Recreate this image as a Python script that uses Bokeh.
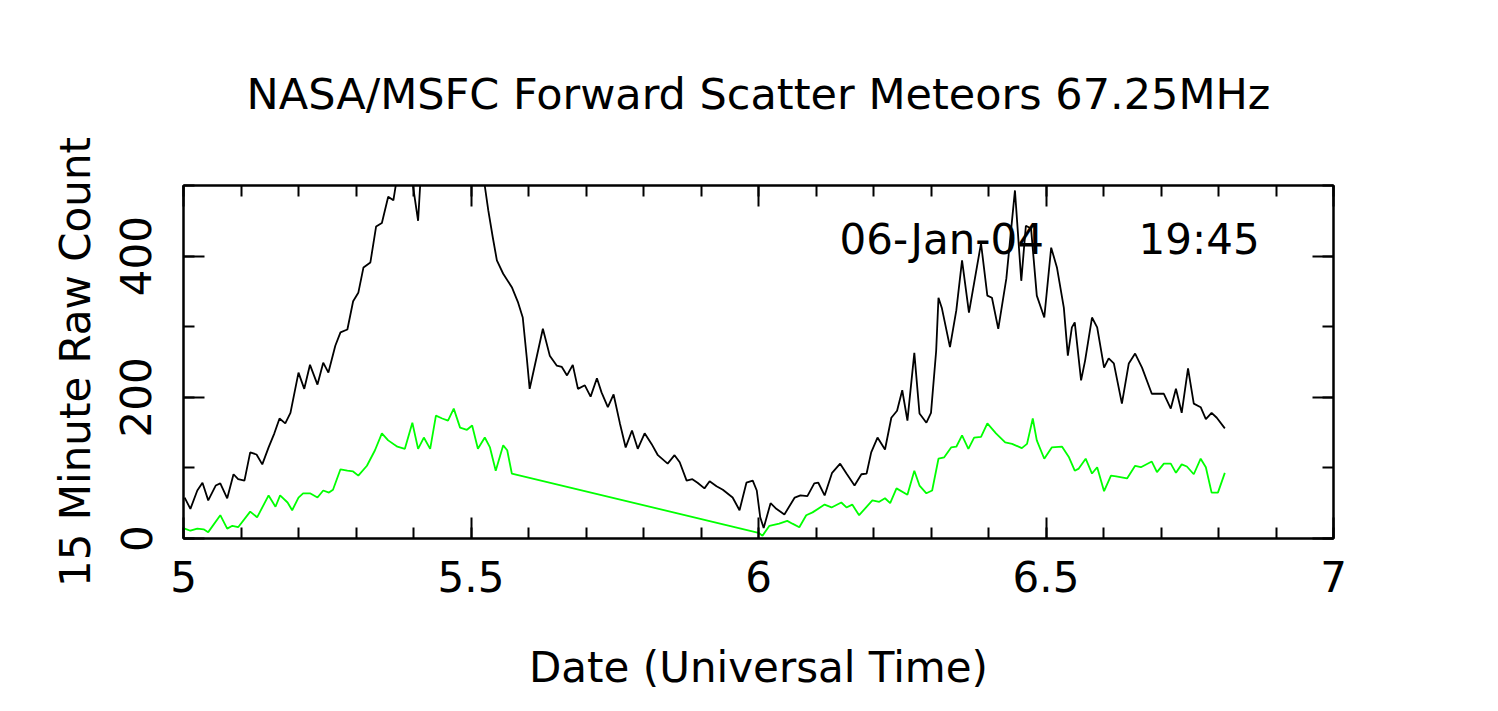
from bokeh.plotting import figure
from bokeh.models import Range1d, LinearAxis, SingleIntervalTicker, Label
from bokeh.embed import file_html
from bokeh.resources import INLINE

title_text = "NASA/MSFC Forward Scatter Meteors 67.25MHz"
x_label = "Date (Universal Time)"
y_label = "15 Minute Raw Count"
stamp_date = "06-Jan-04"
stamp_time = "19:45"
stamp_date_x = 6.141
stamp_time_x = 6.661
stamp_y = 423

black_date = [5.002, 5.012, 5.024, 5.033, 5.043, 5.056, 5.064, 5.076, 5.087, 5.095,
              5.106, 5.116, 5.127, 5.137, 5.148, 5.158, 5.167, 5.177, 5.186, 5.200,
              5.210, 5.220, 5.233, 5.243, 5.252, 5.264, 5.273, 5.285, 5.295, 5.304,
              5.313, 5.325, 5.335, 5.345, 5.356, 5.365, 5.375, 5.385, 5.396, 5.399,
              5.408, 5.413, 5.429, 5.464, 5.498, 5.516, 5.523, 5.530, 5.538, 5.545,
              5.556, 5.571, 5.582, 5.590, 5.597, 5.602, 5.608, 5.625, 5.637, 5.649,
              5.658, 5.667, 5.677, 5.686, 5.698, 5.708, 5.719, 5.727, 5.738, 5.748,
              5.759, 5.769, 5.780, 5.790, 5.802, 5.814, 5.825, 5.842, 5.854, 5.863,
              5.875, 5.885, 5.894, 5.906, 5.915, 5.927, 5.938, 5.955, 5.967, 5.979,
              5.990, 5.997, 6.003, 6.009, 6.021, 6.031, 6.045, 6.063, 6.073, 6.085,
              6.097, 6.104, 6.115, 6.128, 6.142, 6.153, 6.167, 6.179, 6.188, 6.196,
              6.207, 6.220, 6.231, 6.241, 6.250, 6.259, 6.271, 6.280, 6.292, 6.300,
              6.309, 6.313, 6.319, 6.333, 6.344, 6.354, 6.366, 6.387, 6.398, 6.406,
              6.417, 6.431, 6.446, 6.457, 6.465, 6.474, 6.484, 6.497, 6.509, 6.519,
              6.531, 6.538, 6.545, 6.550, 6.561, 6.568, 6.580, 6.589, 6.601, 6.609,
              6.618, 6.632, 6.644, 6.655, 6.667, 6.684, 6.705, 6.717, 6.726, 6.736,
              6.747, 6.757, 6.769, 6.778, 6.788, 6.797, 6.811]
black_count = [58, 42, 68, 79, 54, 75, 78, 57, 91, 84,
               82, 122, 119, 105, 129, 149, 170, 163, 178, 235,
               212, 246, 218, 249, 235, 273, 292, 296, 336, 348,
               384, 391, 442, 447, 484, 479, 530, 560, 505, 500,
               450, 520, 560, 580, 560, 520, 505, 465, 426, 394,
               375, 356, 334, 313, 256, 212, 234, 297, 259, 245,
               243, 231, 246, 212, 217, 201, 227, 207, 186, 204,
               163, 129, 153, 127, 149, 134, 118, 106, 118, 108,
               82, 84, 79, 71, 81, 74, 69, 58, 40, 79,
               82, 68, 30, 15, 50, 42, 34, 58, 61, 60,
               78, 79, 61, 93, 106, 92, 75, 91, 92, 122,
               143, 126, 171, 181, 210, 167, 263, 177, 164, 178,
               266, 341, 326, 271, 323, 394, 320, 418, 344, 341,
               297, 368, 493, 365, 443, 439, 344, 313, 412, 384,
               327, 259, 299, 306, 224, 252, 313, 299, 242, 255,
               248, 191, 248, 262, 242, 205, 205, 184, 212, 178,
               241, 191, 186, 169, 178, 171, 156]

green_date = [5.002, 5.012, 5.024, 5.035, 5.043, 5.064, 5.076, 5.085, 5.095, 5.116,
              5.128, 5.148, 5.160, 5.168, 5.181, 5.189, 5.200, 5.208, 5.220, 5.233,
              5.243, 5.253, 5.260, 5.273, 5.285, 5.295, 5.304, 5.319, 5.333, 5.345,
              5.356, 5.372, 5.385, 5.398, 5.408, 5.418, 5.429, 5.439, 5.450, 5.460,
              5.470, 5.481, 5.493, 5.502, 5.512, 5.524, 5.533, 5.543, 5.556, 5.563,
              5.571, 6.000, 6.007, 6.019, 6.036, 6.050, 6.059, 6.071, 6.083, 6.094,
              6.115, 6.127, 6.144, 6.153, 6.163, 6.175, 6.198, 6.210, 6.220, 6.229,
              6.240, 6.259, 6.271, 6.280, 6.292, 6.302, 6.313, 6.323, 6.335, 6.344,
              6.354, 6.365, 6.375, 6.387, 6.398, 6.413, 6.429, 6.441, 6.458, 6.467,
              6.477, 6.484, 6.497, 6.510, 6.528, 6.540, 6.550, 6.557, 6.569, 6.580,
              6.589, 6.601, 6.613, 6.622, 6.641, 6.655, 6.665, 6.684, 6.693, 6.705,
              6.717, 6.726, 6.736, 6.745, 6.757, 6.769, 6.778, 6.788, 6.799, 6.811]
green_count = [14, 11, 14, 13, 9, 33, 14, 18, 16, 38,
               30, 61, 45, 61, 51, 40, 58, 64, 64, 58,
               68, 65, 69, 98, 96, 95, 89, 103, 125, 149,
               139, 130, 127, 164, 127, 143, 127, 174, 170, 167,
               184, 157, 154, 160, 127, 143, 129, 96, 132, 125,
               92, 8, 4, 18, 21, 25, 21, 16, 33, 37,
               48, 44, 51, 44, 48, 33, 54, 52, 57, 50,
               71, 62, 96, 75, 64, 68, 113, 115, 129, 130,
               146, 127, 143, 144, 163, 149, 136, 134, 128, 134,
               170, 139, 113, 129, 130, 115, 96, 99, 113, 92,
               101, 67, 89, 88, 85, 103, 101, 109, 94, 106,
               106, 93, 105, 102, 91, 113, 101, 65, 65, 93]

FONT = "DejaVu Sans"
FS = "42px"

p = figure(width=1490, height=703, output_backend="svg", toolbar_location=None,
           x_range=Range1d(5, 7), y_range=Range1d(0, 500),
           min_border_left=183, min_border_right=157,
           min_border_top=185, min_border_bottom=165,
           background_fill_color="white", border_fill_color="white",
           x_axis_type=None, y_axis_type=None)

p.title.text = title_text
p.title.align = "center"
p.title.text_font = FONT
p.title.text_font_size = "43px"
p.title.text_font_style = "normal"
p.title.text_color = "black"
p.title.standoff = 133

p.outline_line_color = "black"
p.outline_line_width = 2
p.xgrid.visible = False
p.ygrid.visible = False


def style_axis(ax, labels=True):
    ax.axis_line_color = "black"
    ax.axis_line_width = 2
    ax.major_tick_line_color = "black"
    ax.major_tick_line_width = 2
    ax.minor_tick_line_color = "black"
    ax.minor_tick_line_width = 2
    ax.major_tick_in = 21
    ax.major_tick_out = 0
    ax.minor_tick_in = 11
    ax.minor_tick_out = 0
    ax.major_label_text_font = FONT
    ax.axis_label_text_font = FONT
    ax.axis_label_text_font_style = "normal"
    ax.axis_label_text_color = "black"
    if labels:
        ax.major_label_text_color = "black"
        ax.major_label_text_font_size = FS
        ax.axis_label_text_font_size = FS
    else:
        ax.major_label_text_color = None
        ax.major_label_text_font_size = "1px"
        ax.major_label_standoff = 0


xb = LinearAxis(ticker=SingleIntervalTicker(interval=0.5, num_minor_ticks=5), axis_label=x_label)
style_axis(xb)
xb.major_label_standoff = 22
xb.axis_label_standoff = 48
p.add_layout(xb, "below")

xt = LinearAxis(ticker=SingleIntervalTicker(interval=0.5, num_minor_ticks=5))
style_axis(xt, labels=False)
p.add_layout(xt, "above")

yl = LinearAxis(ticker=SingleIntervalTicker(interval=200, num_minor_ticks=2), axis_label=y_label)
style_axis(yl)
yl.major_label_orientation = "vertical"
yl.major_label_standoff = 32
yl.axis_label_standoff = 18
p.add_layout(yl, "left")

yr = LinearAxis(ticker=SingleIntervalTicker(interval=200, num_minor_ticks=2))
style_axis(yr, labels=False)
p.add_layout(yr, "right")

p.line(black_date, black_count, line_color="black", line_width=1.8)
p.line(green_date, green_count, line_color="#00ff00", line_width=1.8)

for txt, tx in ((stamp_date, stamp_date_x), (stamp_time, stamp_time_x)):
    p.add_layout(Label(x=tx, y=stamp_y, text=txt, text_align="left",
                       text_baseline="alphabetic", text_font=FONT, text_font_size=FS,
                       text_color="black"))

open("out.html", "w").write(file_html(p, INLINE))
